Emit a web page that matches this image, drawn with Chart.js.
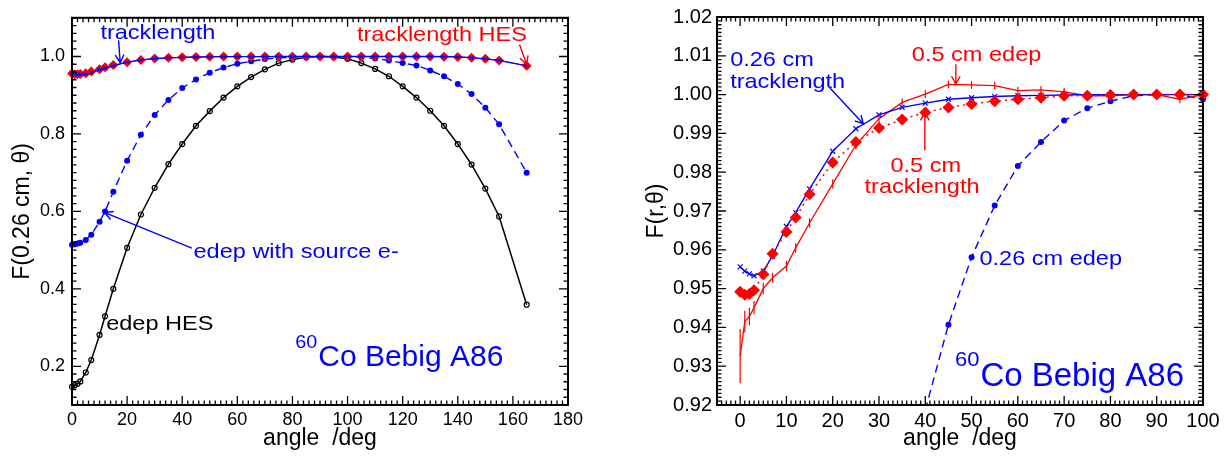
<!DOCTYPE html>
<html><head><meta charset="utf-8">
<script src="https://cdn.jsdelivr.net/npm/chart.js@4.4.0/dist/chart.umd.min.js"></script>
<style>
html,body{margin:0;padding:0;background:#fff;}
#wrap{position:relative;width:1227px;height:456px;overflow:hidden;}
#c1{position:absolute;left:0;top:0;}
#c2{position:absolute;left:613px;top:0;}
</style></head><body>
<div id="wrap"><canvas id="c1" width="613" height="456"></canvas><canvas id="c2" width="614" height="456"></canvas></div>
<script>
// ---------- data ----------
const angles = [0,1,2,3,5,7,10,12,15,20,25,30,35,40,45,50,55,60,65,70,75,80,85,90,95,100,105,110,115,120,125,130,135,140,145,150,155,165];
const edepHES026 = [0.147,0.151,0.155,0.161,0.184,0.216,0.281,0.329,0.400,0.506,0.592,0.661,0.722,0.774,0.821,0.859,0.894,0.923,0.947,0.967,0.983,0.992,0.998,1.000,0.999,0.994,0.983,0.968,0.949,0.923,0.894,0.860,0.821,0.774,0.721,0.659,0.587,0.359];
const edepSrc026 = [0.514,0.515,0.517,0.519,0.526,0.540,0.573,0.600,0.651,0.731,0.798,0.849,0.888,0.9187,0.9407,0.9581,0.9714,0.9816,0.9878,0.9933,0.9965,0.9983,0.9997,1.000,1.000,0.9988,0.998,0.995,0.990,0.983,0.977,0.964,0.949,0.929,0.903,0.868,0.825,0.700];
const track026 = [0.9556,0.9545,0.9538,0.9533,0.9545,0.9584,0.966,0.9696,0.9757,0.9854,0.9912,0.9948,0.9967,0.9978,0.9988,0.9992,0.9995,0.9997,0.9998,0.9999,1.000,1.000,1.000,1.000,1.000,1.000,1.000,1.000,1.000,1.000,1.000,1.000,0.9995,0.999,0.997,0.994,0.990,0.976];
const trackHES026 = [0.956,0.954,0.954,0.955,0.957,0.961,0.967,0.972,0.978,0.985,0.991,0.995,0.997,0.998,0.999,0.9995,1.000,1.000,1.000,1.000,1.000,1.000,1.000,1.000,1.000,1.000,1.000,1.000,1.000,1.000,1.000,1.000,0.9995,0.999,0.997,0.994,0.990,0.976];

const anglesR = [0,1,2,3,5,7,10,12,15,20,25,30,35,40,45,50,55,60,65,70,75,80,85,90,95,100];
const track05 = [0.9492,0.9484,0.9486,0.9496,0.9537,0.959,0.9646,0.9683,0.9743,0.9825,0.9878,0.9914,0.9936,0.9954,0.9967,0.9976,0.9983,0.9988,0.9992,0.9997,0.9997,0.9999,1.000,1.000,1.000,1.000];
const edep05 = [0.9326,0.9415,0.9428,0.9451,0.9500,0.9528,0.9558,0.9605,0.9669,0.9770,0.9870,0.9938,0.9980,1.0001,1.0026,1.0025,1.0023,1.0010,1.0012,1.0007,0.9997,0.9997,1.0000,1.0000,0.9988,1.0000];
const edep05Err = [0.0070,0.0028,0.0023,0.0017,0.0015,0.0013,0.0013,0.0012,0.0012,0.0012,0.0011,0.0011,0.0010,0.0010,0.0010,0.0010,0.0010,0.0010,0.0010,0.0010,0.0010,0.0010,0.0010,0.0010,0.0010,0.0010];

const xTicksL = [0,20,40,60,80,100,120,140,160,180];
const yTicksL = [0.2,0.4,0.6,0.8,1.0];
const xTicksR = [0,10,20,30,40,50,60,70,80,90,100];
const yTicksR = [0.92,0.93,0.94,0.95,0.96,0.97,0.98,0.99,1.00,1.01,1.02];

// ---------- helpers ----------
const FAM = '"Liberation Sans", Arial, Helvetica, sans-serif';
Chart.defaults.font.family = FAM;
const BLUE = '#0000ff', RED = '#ff0000', BLACK = '#000000';
const pts = (xs, ys, xmax) => xs.map((a, i) => ({x: a, y: ys[i]})).filter(p => xmax === undefined || p.x <= xmax);

function drawText(ctx, s, px, py, size, color, align, sx) {
  ctx.save();
  ctx.font = size + 'px ' + FAM;
  ctx.fillStyle = color;
  ctx.textBaseline = 'alphabetic';
  ctx.textAlign = 'left';
  const w = ctx.measureText(s).width * sx;
  let x0 = px;
  if (align === 'center') x0 = px - w / 2; else if (align === 'right') x0 = px - w;
  ctx.translate(x0, py);
  ctx.scale(sx, 1);
  ctx.fillText(s, 0, 0);
  ctx.restore();
  return x0 + w;
}
function drawArrow(ctx, x1, y1, x2, y2, color) {
  ctx.save();
  ctx.strokeStyle = color; ctx.lineWidth = 1.4;
  ctx.beginPath(); ctx.moveTo(x1, y1); ctx.lineTo(x2, y2);
  const ang = Math.atan2(y2 - y1, x2 - x1), L = 9, h = 0.5;
  ctx.moveTo(x2 - L * Math.cos(ang - h), y2 - L * Math.sin(ang - h));
  ctx.lineTo(x2, y2);
  ctx.lineTo(x2 - L * Math.cos(ang + h), y2 - L * Math.sin(ang + h));
  ctx.stroke();
  ctx.restore();
}
function drawFrame(chart, spec) {
  const ctx = chart.ctx, a = chart.chartArea;
  const x = chart.scales.x, y = chart.scales.y;
  const isMaj = (v, majors, step) => majors.some(m => Math.abs(m - v) < step * 1e-3);
  ctx.save();
  ctx.strokeStyle = '#000000';
  ctx.lineWidth = 1.3;
  ctx.beginPath();
  const nx0 = Math.ceil(spec.xMin / spec.xMinor - 1e-6), nx1 = Math.floor(spec.xMax / spec.xMinor + 1e-6);
  for (let n = nx0; n <= nx1; n++) {
    const v = n * spec.xMinor, px = x.getPixelForValue(v);
    const len = isMaj(v, spec.xMajor, spec.xMinor) ? 9 : 4.5;
    ctx.moveTo(px, a.bottom); ctx.lineTo(px, a.bottom - len);
    ctx.moveTo(px, a.top); ctx.lineTo(px, a.top + len);
  }
  const ny0 = Math.ceil(spec.yMin / spec.yMinor - 1e-6), ny1 = Math.floor(spec.yMax / spec.yMinor + 1e-6);
  for (let n = ny0; n <= ny1; n++) {
    const v = n * spec.yMinor, py = y.getPixelForValue(v);
    const len = isMaj(v, spec.yMajor, spec.yMinor) ? 9 : 4.5;
    ctx.moveTo(a.left, py); ctx.lineTo(a.left + len, py);
    ctx.moveTo(a.right, py); ctx.lineTo(a.right - len, py);
  }
  ctx.stroke();
  ctx.lineWidth = 2;
  ctx.strokeRect(a.left, a.top, a.right - a.left, a.bottom - a.top);
  ctx.restore();
}

function makeFrame(spec) {
  return {
    id: 'axisFrame',
    afterDatasetsDraw(chart) {
      const ctx = chart.ctx, x = chart.scales.x, y = chart.scales.y;
      drawFrame(chart, spec);
      chart.data.datasets.forEach((ds, di) => {
        if (!ds.errorBars) return;
        const meta = chart.getDatasetMeta(di);
        ctx.save(); ctx.strokeStyle = ds.borderColor; ctx.lineWidth = 1.2; ctx.beginPath();
        meta.data.forEach((el, i) => {
          const v = ds.data[i].y, e = ds.errorBars[i];
          ctx.moveTo(el.x, y.getPixelForValue(v - e));
          ctx.lineTo(el.x, y.getPixelForValue(v + e));
        });
        ctx.stroke(); ctx.restore();
      });
      spec.arrows.forEach(r => drawArrow(ctx, x.getPixelForValue(r.x1), y.getPixelForValue(r.y1), x.getPixelForValue(r.x2), y.getPixelForValue(r.y2), r.c));
      spec.labels.forEach(t => drawText(ctx, t.t, x.getPixelForValue(t.x), y.getPixelForValue(t.y), 21, t.c, t.a || 'left', 1.12));
      const s = spec.iso, px = x.getPixelForValue(s.x), py = y.getPixelForValue(s.y);
      const end = drawText(ctx, s.sup, px, py - s.rise, s.supSize, s.c, 'left', 1.1);
      drawText(ctx, s.main, end + 1, py, s.size, s.c, 'left', 1.0);
    }
  };
}

function axisX(min, max, ticks, fontSize, title) {
  return {
    type: 'linear', min, max,
    grid: {display: false, drawTicks: false}, border: {display: false},
    afterBuildTicks: s => { s.ticks = ticks.map(v => ({value: v})); },
    afterFit: s => { s.height = 51; },
    ticks: {color: '#000', font: {size: fontSize}, padding: 4, maxRotation: 0, autoSkip: false, callback: v => String(v)},
    title: {display: true, text: title, color: '#000', font: {size: 23}, padding: {top: 0, bottom: 3.5}}
  };
}
function axisY(min, max, ticks, fontSize, dec, width, pad, title, tpad) {
  return {
    type: 'linear', min, max,
    grid: {display: false, drawTicks: false}, border: {display: false},
    afterBuildTicks: s => { s.ticks = ticks.map(v => ({value: v})); },
    afterFit: s => { s.width = width; },
    ticks: {color: '#000', font: {size: fontSize}, padding: pad, autoSkip: false, callback: v => Number(v).toFixed(dec)},
    title: {display: true, text: title, color: '#000', font: {size: 23}, padding: {top: tpad, bottom: 0}}
  };
}
const common = {responsive: false, animation: false, events: [], devicePixelRatio: 1};

// ---------- left chart ----------
const specL = {
  xMin: 0, xMax: 180, yMin: 0.1, yMax: 1.1, xMajor: xTicksL, yMajor: yTicksL, xMinor: 2, yMinor: 0.02,
  labels: [
    {t: 'tracklength', x: 10.3, y: 1.045, c: BLUE},
    {t: 'tracklength HES', x: 103.4, y: 1.040, c: RED},
    {t: 'edep with source e-', x: 44.1, y: 0.479, c: BLUE},
    {t: 'edep HES', x: 12.4, y: 0.294, c: BLACK}
  ],
  arrows: [
    {x1: 16.9, y1: 1.042, x2: 17.5, y2: 0.984, c: BLUE},
    {x1: 162.4, y1: 1.031, x2: 165, y2: 0.980, c: RED},
    {x1: 43.5, y1: 0.505, x2: 11.9, y2: 0.597, c: BLUE}
  ],
  iso: {sup: '60', main: 'Co Bebig A86', x: 81, y: 0.2, rise: 18, supSize: 18, size: 30, c: BLUE}
};
new Chart(document.getElementById('c1'), {
  type: 'line',
  data: {datasets: [
    {label: 'tracklength', data: pts(angles, track026), borderColor: BLUE, borderWidth: 1.3,
     pointStyle: 'crossRot', pointRadius: 3, pointBorderColor: BLUE, pointBorderWidth: 1, pointBackgroundColor: BLUE, order: 0, clip: false},
    {label: 'tracklength HES', data: pts(angles, trackHES026), borderColor: RED, borderWidth: 1,
     pointStyle: 'rectRot', pointRadius: 5, pointBackgroundColor: RED, pointBorderColor: RED, pointBorderWidth: 0, order: 1, clip: false},
    {label: 'edep HES', data: pts(angles, edepHES026), borderColor: BLACK, borderWidth: 1.5,
     pointStyle: 'circle', pointRadius: 2.5, pointBackgroundColor: 'rgba(0,0,0,0)', pointBorderColor: BLACK, pointBorderWidth: 1.2, order: 2, clip: false},
    {label: 'edep with source e-', data: pts(angles, edepSrc026), borderColor: BLUE, borderWidth: 1.4, borderDash: [8, 5],
     pointStyle: 'circle', pointRadius: 3, pointBackgroundColor: BLUE, pointBorderColor: BLUE, pointBorderWidth: 0, order: 3, clip: false}
  ]},
  options: Object.assign({}, common, {
    layout: {padding: {top: 14, right: 45, bottom: 0, left: 0}},
    plugins: {legend: {display: false}, tooltip: {enabled: false}},
    scales: {
      x: axisX(0, 180, xTicksL, 18, 'angle  /deg'),
      y: axisY(0.1, 1.1, yTicksL, 18, 1, 72, 7, 'F(0.26 cm, \u03B8)', 9)
    }
  }),
  plugins: [makeFrame(specL)]
});

// ---------- right chart ----------
const specR = {
  xMin: -5, xMax: 100, yMin: 0.92, yMax: 1.02, xMajor: xTicksR, yMajor: yTicksR, xMinor: 1, yMinor: 0.001,
  labels: [
    {t: '0.26 cm', x: -2.16, y: 1.0074, c: BLUE},
    {t: 'tracklength', x: -2.16, y: 1.0018, c: BLUE},
    {t: '0.5 cm edep', x: 37.1, y: 1.0087, c: RED},
    {t: '0.5 cm', x: 40.1, y: 0.9801, c: RED, a: 'center'},
    {t: 'tracklength', x: 39.3, y: 0.97455, c: RED, a: 'center'},
    {t: '0.26 cm edep', x: 51.7, y: 0.9562, c: BLUE}
  ],
  arrows: [
    {x1: 19.4, y1: 1.0017, x2: 26.6, y2: 0.9925, c: BLUE},
    {x1: 46.6, y1: 1.0078, x2: 46.6, y2: 1.0027, c: RED},
    {x1: 39.9, y1: 0.9856, x2: 39.9, y2: 0.9954, c: RED}
  ],
  iso: {sup: '60', main: 'Co Bebig A86', x: 46.4, y: 0.925, rise: 20, supSize: 20, size: 33, c: BLUE}
};
new Chart(document.getElementById('c2'), {
  type: 'line',
  data: {datasets: [
    {label: '0.5 cm tracklength', data: pts(anglesR, track05), borderColor: RED, borderWidth: 1.5, borderDash: [2, 4],
     pointStyle: 'rectRot', pointRadius: 6, pointBackgroundColor: RED, pointBorderColor: RED, pointBorderWidth: 0, order: 0, clip: false},
    {label: '0.26 cm tracklength', data: pts(angles, track026, 100), borderColor: BLUE, borderWidth: 1.4,
     pointStyle: 'crossRot', pointRadius: 3.5, pointBorderColor: BLUE, pointBorderWidth: 1.2, pointBackgroundColor: BLUE, order: 1, clip: false},
    {label: '0.5 cm edep', data: pts(anglesR, edep05), errorBars: edep05Err, borderColor: RED, borderWidth: 1.3,
     pointRadius: 0, order: 2, clip: false},
    {label: '0.26 cm edep', data: pts(angles, edepSrc026, 100), borderColor: BLUE, borderWidth: 1.4, borderDash: [8, 5],
     pointStyle: 'circle', pointRadius: 3, pointBackgroundColor: BLUE, pointBorderColor: BLUE, pointBorderWidth: 0, order: 3,
     clip: {left: 0, top: 0, right: 8, bottom: 0}}
  ]},
  options: Object.assign({}, common, {
    layout: {padding: {top: 14, right: 24, bottom: 0, left: 0}},
    plugins: {legend: {display: false}, tooltip: {enabled: false}},
    scales: {
      x: axisX(-5, 100, xTicksR, 20, 'angle  /deg'),
      y: axisY(0.92, 1.02, yTicksR, 20, 2, 104, 5, 'F(r,\u03B8)', 30)
    }
  }),
  plugins: [makeFrame(specR)]
});
</script>
</body></html>
